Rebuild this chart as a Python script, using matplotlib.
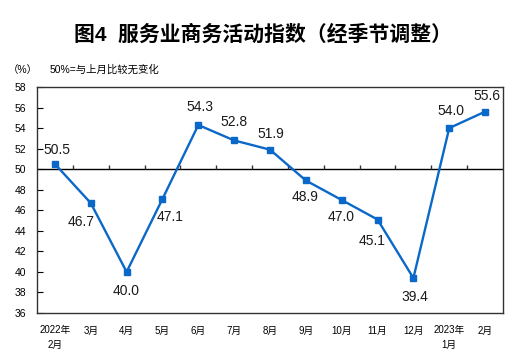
import matplotlib
matplotlib.use('Agg')
import matplotlib.pyplot as plt

plt.rcParams['font.family'] = ['Liberation Sans', 'Noto Sans CJK SC']

# data
months = ['2022年\n2月', '3月', '4月', '5月', '6月', '7月', '8月', '9月',
          '10月', '11月', '12月', '2023年\n1月', '2月']
values = [50.5, 46.7, 40.0, 47.1, 54.3, 52.8, 51.9, 48.9, 47.0, 45.1, 39.4, 54.0, 55.6]
# label offsets in pixels (dx, dy)
offs = [(2, 14), (-10, -19), (0, -19), (8, -18), (2, 18), (0, 18), (1, 16),
        (-1, -17), (-1, -17), (-5, -21), (1, -19), (2, 17), (2, 16)]

fig = plt.figure(figsize=(5.26, 3.64), dpi=100)
ax = fig.add_axes([37/526, 1 - 313/364, 466/526, 226/364])

x = range(len(values))
ax.plot(x, values, color='#0A68C8', lw=1.7, marker='s', ms=4.5, zorder=3)

for i, v in enumerate(values):
    ax.annotate(f'{v:.1f}', (i, v), xytext=offs[i], textcoords='offset pixels',
                ha='center', va='center', fontsize=10, color='#1a1a1a')

# category axis crossing at 50, small ticks between categories
ax.axhline(50, color='black', lw=1, zorder=2)
ax.vlines([i + 0.5 for i in range(len(values) - 1)], 50, 50.4,
          color='#333333', lw=1, zorder=2)

ax.set_xlim(-0.5, len(values) - 0.5)
ax.set_ylim(36, 58)
ax.set_yticks(range(36, 59, 2))
ax.set_xticks(list(x))
ax.set_xticklabels(months, fontsize=7, linespacing=1.6, va='top')
ax.tick_params(axis='x', length=0, pad=9)
ax.tick_params(axis='y', labelsize=7.5, length=4, direction='in', pad=8)
for s in ax.spines.values():
    s.set_linewidth(1)
    s.set_color('#333333')

fig.text(0.5, 1 - 35/364, '图4  服务业商务活动指数（经季节调整）', ha='center', va='center',
         fontsize=15, fontweight='bold')
fig.text(8/526, 1 - 70/364, '（%）', ha='left', va='center', fontsize=7.5)
fig.text(50/526, 1 - 70/364, '50%=与上月比较无变化', ha='left', va='center', fontsize=7.5)

fig.savefig('out.png', dpi=100)
